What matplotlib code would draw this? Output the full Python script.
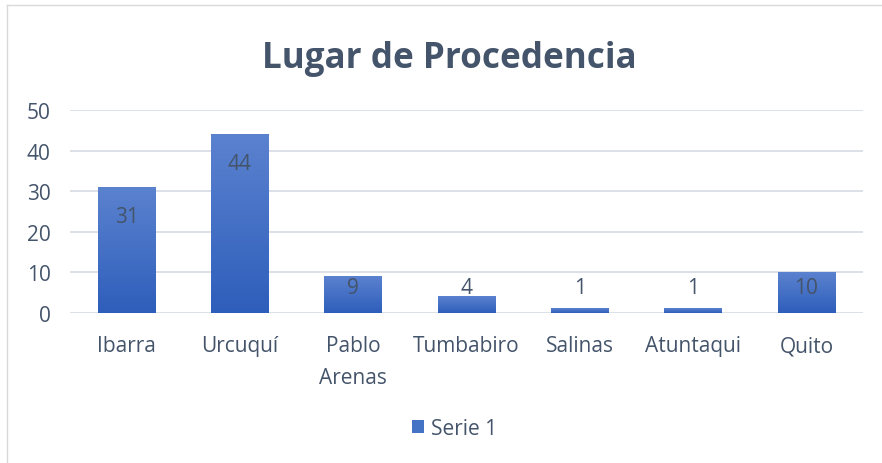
import numpy as np
import matplotlib
matplotlib.use("Agg")
import matplotlib.pyplot as plt
from matplotlib.colors import LinearSegmentedColormap
from matplotlib.patches import Rectangle
from matplotlib.lines import Line2D

# data
lugares = ["Ibarra", "Urcuquí", "Pablo\nArenas", "Tumbabiro", "Salinas", "Atuntaqui", "Quito"]
valores = [31, 44, 9, 4, 1, 1, 10]
serie = "Serie 1"

txt = "#44546A"
grid_c = "#D9DEE6"
bar_top = "#5B82CF"
bar_bot = "#2E5EBB"

plt.rcParams["font.family"] = ["Open Sans", "DejaVu Sans"]

fig = plt.figure(figsize=(8.82, 4.64), dpi=100)
ax = fig.add_axes([0.0794, 0.3233, 0.8991, 0.4375])

x = np.arange(len(lugares))
bars = ax.bar(x, valores, width=0.51, color=bar_bot, zorder=2)

# vertical gradient on each bar
cmap = LinearSegmentedColormap.from_list("g", [bar_bot, bar_top])
grad = np.linspace(0, 1, 256).reshape(-1, 1)
for b in bars:
    x0, w, h = b.get_x(), b.get_width(), b.get_height()
    ax.imshow(grad, cmap=cmap, origin="lower", aspect="auto",
              extent=[x0, x0 + w, 0, h], zorder=3)

# data labels (inside end, kept above a minimum height)
for xi, v in zip(x, valores):
    ax.text(xi, max(v - 7.2, 6.3), str(v), ha="center", va="center",
            fontsize=15, color=txt, zorder=4)

ax.set_xlim(-0.5, len(lugares) - 0.5)
ax.set_ylim(0, 50)
ax.set_yticks(range(0, 51, 10))
ax.set_xticks(x)
ax.set_xticklabels(lugares, linespacing=1.67)
ax.tick_params(axis="both", length=0, labelsize=15, labelcolor=txt)
ax.tick_params(axis="x", pad=16)
ax.tick_params(axis="y", pad=14)
for lbl in ax.get_xticklabels():
    lbl.set_verticalalignment("top")
ax.grid(axis="y", color=grid_c, linewidth=1.3, zorder=0)
for s in ax.spines.values():
    s.set_visible(False)

fig.suptitle("Lugar de Procedencia", x=0.509, y=0.912, fontsize=25.2,
             fontweight="bold", color=txt)

handle = Rectangle((0, 0), 1, 1, facecolor="#4472C4")
fig.legend([handle], [serie], loc="center", bbox_to_anchor=(0.515, 0.074),
           frameon=False, fontsize=15, labelcolor=txt, handlelength=0.6,
           handleheight=0.6, handletextpad=0.3)

# chart border
fig.add_artist(Line2D([7 / 882, 7 / 882], [0, 1 - 6 / 464], color="#D9D9D9", lw=1))
fig.add_artist(Line2D([7 / 882, 1], [1 - 6 / 464, 1 - 6 / 464], color="#D9D9D9", lw=1))

fig.savefig("out.png", dpi=100)
